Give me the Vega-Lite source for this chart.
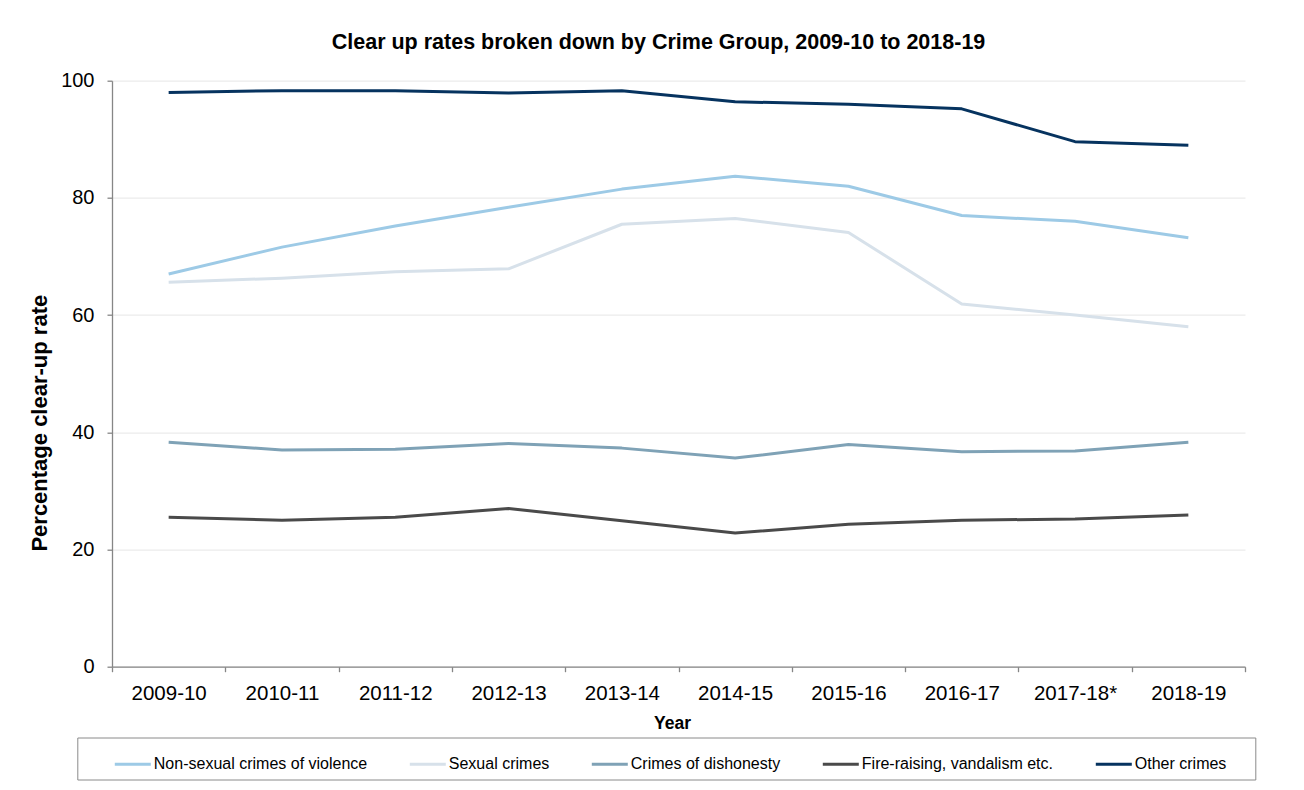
{
  "$schema": "https://vega.github.io/schema/vega-lite/v6.json",
  "autosize": {"type": "none"},
  "width": 1133,
  "height": 586,
  "padding": {"left": 112, "top": 80.7, "right": 59, "bottom": 123.3},
  "background": "white",
  "config": {
    "font": "Liberation Sans",
    "view": {"stroke": null}
  },
  "title": {
    "text": "Clear up rates broken down by Crime Group, 2009-10 to 2018-19",
    "font": "Liberation Sans",
    "fontSize": 21.5,
    "fontWeight": "bold",
    "color": "#000000",
    "anchor": "middle",
    "frame": "group",
    "dx": -20,
    "offset": 17
  },
  "data": {
    "values": [
      {"year": "2009-10", "group": "Non-sexual crimes of violence", "rate": 67.0},
      {"year": "2010-11", "group": "Non-sexual crimes of violence", "rate": 71.6},
      {"year": "2011-12", "group": "Non-sexual crimes of violence", "rate": 75.2},
      {"year": "2012-13", "group": "Non-sexual crimes of violence", "rate": 78.4},
      {"year": "2013-14", "group": "Non-sexual crimes of violence", "rate": 81.5},
      {"year": "2014-15", "group": "Non-sexual crimes of violence", "rate": 83.7},
      {"year": "2015-16", "group": "Non-sexual crimes of violence", "rate": 82.0},
      {"year": "2016-17", "group": "Non-sexual crimes of violence", "rate": 77.0},
      {"year": "2017-18*", "group": "Non-sexual crimes of violence", "rate": 76.0},
      {"year": "2018-19", "group": "Non-sexual crimes of violence", "rate": 73.2},
      {"year": "2009-10", "group": "Sexual crimes", "rate": 65.6},
      {"year": "2010-11", "group": "Sexual crimes", "rate": 66.3},
      {"year": "2011-12", "group": "Sexual crimes", "rate": 67.4},
      {"year": "2012-13", "group": "Sexual crimes", "rate": 67.9},
      {"year": "2013-14", "group": "Sexual crimes", "rate": 75.5},
      {"year": "2014-15", "group": "Sexual crimes", "rate": 76.5},
      {"year": "2015-16", "group": "Sexual crimes", "rate": 74.1},
      {"year": "2016-17", "group": "Sexual crimes", "rate": 61.9},
      {"year": "2017-18*", "group": "Sexual crimes", "rate": 60.0},
      {"year": "2018-19", "group": "Sexual crimes", "rate": 58.0},
      {"year": "2009-10", "group": "Crimes of dishonesty", "rate": 38.3},
      {"year": "2010-11", "group": "Crimes of dishonesty", "rate": 37.0},
      {"year": "2011-12", "group": "Crimes of dishonesty", "rate": 37.1},
      {"year": "2012-13", "group": "Crimes of dishonesty", "rate": 38.1},
      {"year": "2013-14", "group": "Crimes of dishonesty", "rate": 37.3},
      {"year": "2014-15", "group": "Crimes of dishonesty", "rate": 35.6},
      {"year": "2015-16", "group": "Crimes of dishonesty", "rate": 37.9},
      {"year": "2016-17", "group": "Crimes of dishonesty", "rate": 36.7},
      {"year": "2017-18*", "group": "Crimes of dishonesty", "rate": 36.8},
      {"year": "2018-19", "group": "Crimes of dishonesty", "rate": 38.3},
      {"year": "2009-10", "group": "Fire-raising, vandalism etc.", "rate": 25.5},
      {"year": "2010-11", "group": "Fire-raising, vandalism etc.", "rate": 25.0},
      {"year": "2011-12", "group": "Fire-raising, vandalism etc.", "rate": 25.5},
      {"year": "2012-13", "group": "Fire-raising, vandalism etc.", "rate": 27.0},
      {"year": "2013-14", "group": "Fire-raising, vandalism etc.", "rate": 24.9},
      {"year": "2014-15", "group": "Fire-raising, vandalism etc.", "rate": 22.8},
      {"year": "2015-16", "group": "Fire-raising, vandalism etc.", "rate": 24.3},
      {"year": "2016-17", "group": "Fire-raising, vandalism etc.", "rate": 25.0},
      {"year": "2017-18*", "group": "Fire-raising, vandalism etc.", "rate": 25.2},
      {"year": "2018-19", "group": "Fire-raising, vandalism etc.", "rate": 25.9},
      {"year": "2009-10", "group": "Other crimes", "rate": 98.0},
      {"year": "2010-11", "group": "Other crimes", "rate": 98.3},
      {"year": "2011-12", "group": "Other crimes", "rate": 98.3},
      {"year": "2012-13", "group": "Other crimes", "rate": 97.9},
      {"year": "2013-14", "group": "Other crimes", "rate": 98.3},
      {"year": "2014-15", "group": "Other crimes", "rate": 96.4},
      {"year": "2015-16", "group": "Other crimes", "rate": 96.0},
      {"year": "2016-17", "group": "Other crimes", "rate": 95.2},
      {"year": "2017-18*", "group": "Other crimes", "rate": 89.6},
      {"year": "2018-19", "group": "Other crimes", "rate": 89.0}
    ]
  },
  "mark": {"type": "line", "strokeWidth": 3, "strokeCap": "butt", "strokeJoin": "round"},
  "encoding": {
    "x": {
      "field": "year",
      "type": "nominal",
      "sort": null,
      "bandPosition": 0.5,
      "scale": {"type": "band", "paddingInner": 0, "paddingOuter": 0},
      "axis": {
        "title": "Year",
        "titleFont": "Liberation Sans",
        "titleFontSize": 17.5,
        "titleFontWeight": "bold",
        "titleColor": "#000000",
        "titleBaseline": "alphabetic",
        "titleX": 560,
        "titleY": 61.6,
        "labelAngle": 0,
        "labelFont": "Liberation Sans",
        "labelFontSize": 20.5,
        "labelColor": "#000000",
        "labelPadding": 12,
        "tickBand": "extent",
        "tickSize": 5,
        "tickColor": "#868686",
        "tickWidth": 1.3,
        "domainColor": "#868686",
        "domainWidth": 1.3,
        "grid": false
      }
    },
    "y": {
      "field": "rate",
      "type": "quantitative",
      "scale": {"domain": [0, 100], "nice": false, "zero": true},
      "axis": {
        "title": "Percentage clear-up rate",
        "titleFont": "Liberation Sans",
        "titleFontSize": 22,
        "titleFontWeight": "bold",
        "titleColor": "#000000",
        "titleAngle": 270,
        "titleAlign": "center",
        "titleBaseline": "alphabetic",
        "titleX": -66,
        "titleY": 342,
        "values": [0, 20, 40, 60, 80, 100],
        "labelFont": "Liberation Sans",
        "labelFontSize": 20,
        "labelColor": "#000000",
        "labelPadding": 13,
        "tickSize": 5,
        "tickColor": "#868686",
        "tickWidth": 1.3,
        "domainColor": "#868686",
        "domainWidth": 1.3,
        "grid": true,
        "gridColor": "#ebebeb",
        "gridWidth": 1.2
      }
    },
    "color": {
      "field": "group",
      "type": "nominal",
      "sort": ["Non-sexual crimes of violence", "Sexual crimes", "Crimes of dishonesty", "Fire-raising, vandalism etc.", "Other crimes"],
      "scale": {
        "domain": ["Non-sexual crimes of violence", "Sexual crimes", "Crimes of dishonesty", "Fire-raising, vandalism etc.", "Other crimes"],
        "range": ["#9dcae6", "#d7e1ea", "#7fa2b6", "#4a4a4a", "#06335f"]
      },
      "legend": {
        "orient": "none",
        "direction": "horizontal",
        "legendX": -34.7,
        "legendY": 656.8,
        "title": "\u00a0",
        "titleOrient": "left",
        "titlePadding": 29,
        "titleFontSize": 16,
        "padding": 7,
        "strokeColor": "#8a8a8a",
        "symbolType": "stroke",
        "symbolSize": 1296,
        "symbolStrokeWidth": 3,
        "labelFont": "Liberation Sans",
        "labelFontSize": 16,
        "labelColor": "#000000",
        "labelLimit": 400,
        "labelOffset": 1.5,
        "columnPadding": 36,
        "labelExpr": "datum.label == 'Other crimes' ? 'Other crimes\u00a0\u00a0\u00a0\u00a0\u2009\u200b' : datum.label"
      }
    }
  }
}
